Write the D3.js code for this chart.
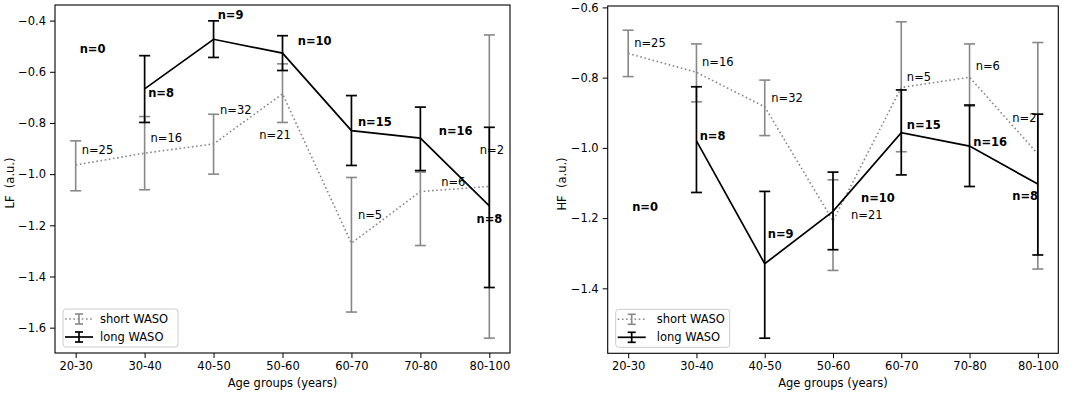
<!DOCTYPE html>
<html><head><meta charset="utf-8">
<script src="https://cdn.jsdelivr.net/npm/d3@7"></script>
<style>
body{margin:0;background:#fff;}
text{font-family:"DejaVu Sans",sans-serif;}
</style></head>
<body><svg id="c" width="1084" height="394"></svg>
<script>
const categories = ["20-30","30-40","40-50","50-60","60-70","70-80","80-100"];

// LF panel
const lfShortMean = [-0.964,-0.918,-0.882,-0.686,-1.270,-1.068,-1.048];
const lfShortLo   = [-1.065,-1.061,-1.000,-0.798,-1.539,-1.279,-1.641];
const lfShortHi   = [-0.870,-0.775,-0.766,-0.569,-1.013,-0.992,-0.456];
const lfLongMean  = [null,-0.667,-0.473,-0.527,-0.830,-0.859,-1.124];
const lfLongLo    = [null,-0.798,-0.544,-0.595,-0.966,-0.986,-1.443];
const lfLongHi    = [null,-0.537,-0.401,-0.459,-0.693,-0.738,-0.817];
const lfShortN = ["n=25","n=16","n=32","n=21","n=5","n=6","n=2"];
const lfLongN  = ["n=0","n=8","n=9","n=10","n=15","n=16","n=8"];
const lfShortLabX = [0.087,1.086,2.093,2.664,4.094,5.301,5.862];
const lfShortLabY = [-0.905,-0.858,-0.749,-0.846,-1.159,-1.029,-0.907];
const lfLongLabX  = [0.058,1.051,2.060,3.222,4.094,5.266,5.814];
const lfLongLabY  = [-0.511,-0.684,-0.378,-0.478,-0.798,-0.830,-1.175];
const lfTicks = [-0.4,-0.6,-0.8,-1.0,-1.2,-1.4,-1.6];

// HF panel
const hfShortMean = [-0.731,-0.785,-0.883,-1.208,-0.828,-0.799,-1.017];
const hfShortLo   = [-0.797,-0.869,-0.965,-1.349,-1.011,-0.881,-1.345];
const hfShortHi   = [-0.665,-0.704,-0.807,-1.091,-0.641,-0.704,-0.700];
const hfLongMean  = [null,-0.980,-1.330,-1.181,-0.957,-0.995,-1.103];
const hfLongLo    = [null,-1.127,-1.542,-1.290,-1.077,-1.110,-1.305];
const hfLongHi    = [null,-0.826,-1.124,-1.069,-0.835,-0.878,-0.904];
const hfShortN = ["n=25","n=16","n=32","n=21","n=5","n=6","n=2"];
const hfLongN  = ["n=0","n=8","n=9","n=10","n=15","n=16","n=8"];
const hfShortLabX = [0.088,1.081,2.095,3.264,4.082,5.090,5.625];
const hfShortLabY = [-0.702,-0.756,-0.857,-1.191,-0.797,-0.766,-0.916];
const hfLongLabX  = [0.058,1.047,2.045,3.410,4.082,5.055,5.625];
const hfLongLabY  = [-1.167,-0.965,-1.245,-1.142,-0.935,-0.982,-1.137];
const hfTicks = [-0.6,-0.8,-1.0,-1.2,-1.4];

const seriesNames = ["short WASO","long WASO"];
const xTitle = "Age groups (years)";

const GRAY = "#888888";
const svg = d3.select("#c");
const fmt = d3.format(".1f");
const FS = "11.5px";

function panel(o){
  const g = svg.append("g");
  const x = d3.scaleLinear().domain([-0.3,6.3]).range([o.left,o.right]);
  const y = d3.scaleLinear().domain(o.ydom).range([o.bottom,o.top]);

  const xa = g.append("g").attr("transform",`translate(0,${o.bottom})`)
    .call(d3.axisBottom(x).tickValues(d3.range(categories.length)).tickFormat(i=>categories[i]).tickSize(5).tickPadding(4));
  const ya = g.append("g").attr("transform",`translate(${o.left},0)`)
    .call(d3.axisLeft(y).tickValues(o.ticks).tickFormat(fmt).tickSize(5).tickPadding(4));
  [xa,ya].forEach(a=>{
    a.select(".domain").remove();
    a.selectAll("text").style("font-size",FS).attr("fill","#000");
    a.selectAll("line").attr("stroke","#000").attr("stroke-width",1);
  });

  const line = d3.line().defined(d=>d.m!=null).x(d=>x(d.i)).y(d=>y(d.m));
  function series(mean,lo,hi,color,dash,lw){
    const d = mean.map((m,i)=>({i,m,lo:lo[i],hi:hi[i]}));
    const p = g.append("path").datum(d).attr("d",line).attr("fill","none")
      .attr("stroke",color).attr("stroke-width",lw);
    if(dash) p.attr("stroke-dasharray",dash);
    const e = g.append("g").selectAll("g").data(d.filter(v=>v.m!=null)).join("g");
    e.append("line").attr("x1",v=>x(v.i)).attr("x2",v=>x(v.i)).attr("y1",v=>y(v.lo)).attr("y2",v=>y(v.hi))
      .attr("stroke",color).attr("stroke-width",lw);
    ["lo","hi"].forEach(k=>{
      e.append("line").attr("x1",v=>x(v.i)-5.5).attr("x2",v=>x(v.i)+5.5)
        .attr("y1",v=>y(v[k])).attr("y2",v=>y(v[k])).attr("stroke",color).attr("stroke-width",lw);
    });
  }
  series(o.sm,o.slo,o.shi,GRAY,"1.6,2.6",1.6);
  series(o.lm,o.llo,o.lhi,"#000",null,1.7);

  o.sn.forEach((t,i)=>{
    g.append("text").attr("x",x(o.slx[i])).attr("y",y(o.sly[i])).attr("dy","0.35em")
      .style("font-size",FS).attr("fill","#000").text(t);
  });
  o.ln.forEach((t,i)=>{
    g.append("text").attr("x",x(o.llx[i])).attr("y",y(o.lly[i])).attr("dy","0.35em")
      .style("font-size",FS).style("font-weight","bold").attr("fill","#000").text(t);
  });

  g.append("rect").attr("x",o.left).attr("y",o.top).attr("width",o.right-o.left).attr("height",o.bottom-o.top)
    .attr("fill","none").attr("stroke","#000").attr("stroke-width",1.1);

  g.append("text").attr("x",(o.left+o.right)/2).attr("y",o.bottom+34).attr("text-anchor","middle")
    .style("font-size",FS).text(xTitle);
  g.append("text").attr("transform",`translate(${o.ylx},${o.yly}) rotate(-90)`).attr("text-anchor","middle")
    .attr("dy","0.35em").style("font-size",FS).style("white-space","pre").text(o.ytitle);

  const lg = g.append("g").attr("transform",`translate(${o.left+8},${o.bottom-44})`);
  lg.append("rect").attr("x",0).attr("y",0).attr("width",o.legW).attr("height",38).attr("rx",3)
    .attr("fill","#fff").attr("fill-opacity",0.8).attr("stroke","#cccccc").attr("stroke-width",1);
  const rows = [{c:GRAY,dash:"1.6,2.6",lw:1.6,cy:10},{c:"#000",dash:null,lw:1.7,cy:28}];
  rows.forEach((r,k)=>{
    const hl = lg.append("line").attr("x1",2).attr("x2",30).attr("y1",r.cy).attr("y2",r.cy)
      .attr("stroke",r.c).attr("stroke-width",r.lw);
    if(r.dash) hl.attr("stroke-dasharray",r.dash);
    lg.append("line").attr("x1",16).attr("x2",16).attr("y1",r.cy-5).attr("y2",r.cy+5).attr("stroke",r.c).attr("stroke-width",r.lw);
    [-5,5].forEach(dy=>lg.append("line").attr("x1",12).attr("x2",20).attr("y1",r.cy+dy).attr("y2",r.cy+dy).attr("stroke",r.c).attr("stroke-width",r.lw));
    lg.append("text").attr("x",o.legTx).attr("y",r.cy).attr("dy","0.35em").style("font-size",FS).text(seriesNames[k]);
  });
}

panel({left:55,right:510,top:5,bottom:353,ydom:[-1.699,-0.339],ticks:lfTicks,
  sm:lfShortMean,slo:lfShortLo,shi:lfShortHi,lm:lfLongMean,llo:lfLongLo,lhi:lfLongHi,
  sn:lfShortN,ln:lfLongN,slx:lfShortLabX,sly:lfShortLabY,llx:lfLongLabX,lly:lfLongLabY,
  ytitle:"LF  (a.u.)",ylx:10,yly:183,legW:115,legTx:37});
panel({left:607.7,right:1058.3,top:6,bottom:353.3,ydom:[-1.585,-0.596],ticks:hfTicks,
  sm:hfShortMean,slo:hfShortLo,shi:hfShortHi,lm:hfLongMean,llo:hfLongLo,lhi:hfLongHi,
  sn:hfShortN,ln:hfLongN,slx:hfShortLabX,sly:hfShortLabY,llx:hfLongLabX,lly:hfLongLabY,
  ytitle:"HF  (a.u.)",ylx:562,yly:184,legW:114,legTx:41});
</script></body></html>
